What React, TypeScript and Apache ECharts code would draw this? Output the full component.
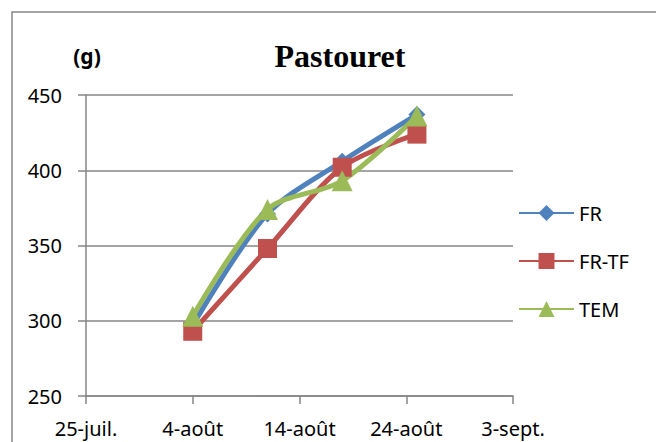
import React, { useEffect, useRef } from "react";
import * as echarts from "echarts";

// Dates of measurement (offset in days from 25-juil.)
const startDate = "2011-07-25";
const sampleDates = ["2011-08-04", "2011-08-11", "2011-08-18", "2011-08-25"];
const tickLabels = ["25-juil.", "4-août", "14-août", "24-août", "3-sept."];
const seriesNames = ["FR", "FR-TF", "TEM"];
const frValues = [297, 371, 406, 437];
const frtfValues = [293, 348, 402, 424];
const temValues = [303, 374, 393, 436];

const DAY = 86400000;
const dayOffsets = sampleDates.map((d) => Math.round((Date.parse(d) - Date.parse(startDate)) / DAY));

const FONT = "Noto Sans";

export default function App() {
  const ref = useRef<HTMLDivElement>(null);
  useEffect(() => {
    if (!ref.current) return;
    const chart = echarts.init(ref.current, null, { renderer: "svg" });
    const mk = (vals: number[]) => vals.map((v, i) => [dayOffsets[i], v]);
    const lineW = 5;
    chart.setOption({
      animation: false,
      backgroundColor: "#ffffff",
      textStyle: { fontFamily: FONT },
      graphic: [
        {
          type: "rect",
          shape: { x: 12, y: 12, width: 700, height: 500 },
          style: { fill: "none", stroke: "#868686", lineWidth: 1.5 },
          silent: true,
        },
        {
          type: "text",
          x: 340,
          y: 56,
          style: {
            text: "Pastouret",
            font: "bold 32px 'Liberation Serif'",
            fill: "#000",
            align: "center",
            verticalAlign: "middle",
          },
        },
        {
          type: "text",
          x: 87,
          y: 56,
          style: {
            text: "(g)",
            font: "bold 21px 'Liberation Sans Narrow', " + FONT,
            fill: "#000",
            align: "center",
            verticalAlign: "middle",
          },
        },
      ],
      grid: { left: 86, right: 143, top: 95, bottom: 46, containLabel: false },
      legend: {
        orient: "vertical",
        left: 518,
        top: 203,
        padding: 0,
        itemWidth: 55,
        itemHeight: 20,
        itemGap: 28,
        textStyle: { fontFamily: FONT, fontSize: 20, color: "#000" },
        data: seriesNames,
      },
      xAxis: {
        type: "value",
        min: 0,
        max: 40,
        interval: 10,
        axisLine: { show: true, lineStyle: { color: "#868686", width: 1.5 } },
        axisTick: { show: true, length: 8, lineStyle: { color: "#868686", width: 1.5 } },
        splitLine: { show: false },
        axisLabel: {
          margin: 22,
          fontFamily: FONT,
          fontSize: 20,
          color: "#000",
          formatter: (v: number) => tickLabels[Math.round(v / 10)] ?? "",
        },
      },
      yAxis: {
        type: "value",
        min: 250,
        max: 450,
        interval: 50,
        axisLine: { show: true, lineStyle: { color: "#868686", width: 1.5 } },
        axisTick: { show: true, length: 8, lineStyle: { color: "#868686", width: 1.5 } },
        splitLine: { show: true, lineStyle: { color: "#868686", width: 1.5 } },
        axisLabel: { margin: 24, fontFamily: FONT, fontSize: 20, color: "#000" },
      },
      series: [
        {
          name: "FR",
          type: "line",
          smooth: 0.3,
          data: mk(frValues),
          symbol: "diamond",
          symbolSize: 17,
          itemStyle: { color: "#4F81BD" },
          lineStyle: { color: "#4F81BD", width: lineW },
        },
        {
          name: "FR-TF",
          type: "line",
          smooth: 0.3,
          data: mk(frtfValues),
          symbol: "rect",
          symbolSize: 19,
          itemStyle: { color: "#C0504D" },
          lineStyle: { color: "#C0504D", width: lineW },
        },
        {
          name: "TEM",
          type: "line",
          smooth: 0.3,
          data: mk(temValues),
          symbol: "triangle",
          symbolSize: 21,
          itemStyle: { color: "#9BBB59" },
          lineStyle: { color: "#9BBB59", width: lineW },
        },
      ],
    });
    return () => chart.dispose();
  }, []);
  return (
    <div
      ref={ref}
      style={{ position: "fixed", left: 0, top: 0, width: 656, height: 442 }}
    />
  );
}
